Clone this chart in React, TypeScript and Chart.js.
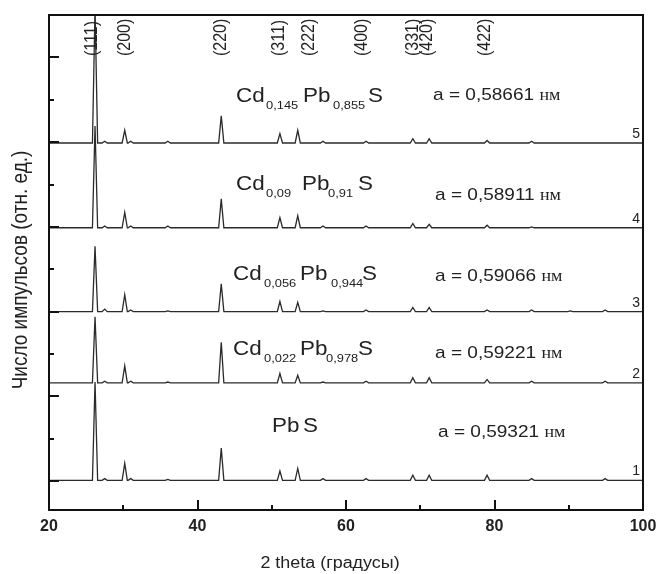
import React, { useEffect, useRef } from "react";
import { Chart, registerables } from "chart.js";
Chart.register(...registerables);

// Peak positions (2θ, degrees) shared by all patterns
const peakPositions = [26.2, 27.5, 30.2, 31.0, 36.0, 43.2, 51.1, 53.5, 56.9, 62.7, 69.0, 71.2, 79.0, 85.0, 90.2, 94.9];
// Peak heights above each pattern's baseline (relative units)
const heights1 = [116, 2, 20, 2, 1, 38, 11, 14, 2, 2, 6, 6, 6, 2, 0, 2];
const heights2 = [78, 2, 20, 2, 1, 48, 11, 9, 1, 2, 6, 6, 4, 2, 0, 2];
const heights3 = [77, 3, 20, 2, 1, 33, 12, 11, 1, 2, 5, 5, 2, 2, 1, 2];
const heights4 = [120, 2, 18, 2, 2, 34, 12, 14, 2, 2, 5, 4, 3, 1, 0, 0];
const heights5 = [160, 2, 15, 2, 2, 32, 11, 15, 2, 2, 5, 5, 3, 2, 0, 0];
// Vertical offsets of the stacked patterns 1..5
const baselines = [1, 116, 200, 299, 399];
const traceNumbers = ["1", "2", "3", "4", "5"];

// Miller indices labels and their 2θ positions
const hklLabels = ["(111)", "(200)", "(220)", "(311)", "(222)", "(400)", "(331)", "(420)", "(422)"];
const hklPositions = [25.86, 30.24, 43.23, 51.04, 55.08, 62.2, 69.02, 70.98, 78.72];

// Axis ticks
const xMajorTicks = [20, 40, 60, 80, 100];
const xMinorTicks = [30, 50, 70, 90];
const yMajorTicks = [0, 100, 200, 300, 400, 500];
const yMinorTicks = [50, 150, 250, 350, 450];

// Lattice constants
const latticeLabels = ["a = 0,59321", "a = 0,59221", "a = 0,59066", "a = 0,58911", "a = 0,58661"];

const SX = 1.12;
const SANS = "'Liberation Sans', Arial, sans-serif";
const SERIF = "'Liberation Serif', 'Times New Roman', serif";

function buildTrace(base: number, heights: number[]) {
  const pts: { x: number; y: number }[] = [{ x: 20, y: base }];
  peakPositions.forEach((p, i) => {
    const h = heights[i];
    if (h > 0) {
      pts.push({ x: p - 0.35, y: base }, { x: p, y: base + h }, { x: p + 0.35, y: base });
    }
  });
  pts.push({ x: 100, y: base });
  return pts;
}

function txt(ctx: CanvasRenderingContext2D, s: string, x: number, y: number, font: string, align: CanvasTextAlign = "left", baseline: CanvasTextBaseline = "alphabetic", sx = SX) {
  ctx.save();
  ctx.translate(x, y);
  ctx.scale(sx, 1);
  ctx.font = font;
  ctx.textAlign = align;
  ctx.textBaseline = baseline;
  ctx.fillText(s, 0, 0);
  ctx.restore();
}

// Compound formula labels: [text, x, isSubscript]
type Seg = [string, number, number];
const formulaLabels: { y: number; segs: Seg[] }[] = [
  { y: 432, segs: [["Pb", 272, 0], ["S", 303, 0]] },
  { y: 355, segs: [["Cd", 233, 0], ["0,022", 264, 1], ["Pb", 300, 0], ["0,978", 326, 1], ["S", 358, 0]] },
  { y: 280, segs: [["Cd", 233, 0], ["0,056", 264, 1], ["Pb", 300, 0], ["0,944", 331, 1], ["S", 362, 0]] },
  { y: 190, segs: [["Cd", 236, 0], ["0,09", 266, 1], ["Pb", 302, 0], ["0,91", 328, 1], ["S", 358, 0]] },
  { y: 102, segs: [["Cd", 236, 0], ["0,145", 266, 1], ["Pb", 303, 0], ["0,855", 333, 1], ["S", 368, 0]] },
];
const latticePos = [
  { x: 438, y: 437 },
  { x: 435, y: 358 },
  { x: 435, y: 281 },
  { x: 435, y: 200 },
  { x: 433, y: 100 },
];

const decor = {
  id: "decor",
  afterDraw(chart: any) {
    const ctx: CanvasRenderingContext2D = chart.ctx;
    const { left, right, top, bottom } = chart.chartArea;
    const xs = chart.scales.x;
    const ys = chart.scales.y;
    ctx.save();
    ctx.strokeStyle = "#111";
    ctx.fillStyle = "#222";
    // frame
    ctx.lineWidth = 2;
    ctx.strokeRect(left, top, right - left, bottom - top);
    // ticks (inward)
    ctx.beginPath();
    xMajorTicks.forEach((v) => { const px = Math.round(xs.getPixelForValue(v)); ctx.moveTo(px, bottom); ctx.lineTo(px, bottom - 10); });
    xMinorTicks.forEach((v) => { const px = Math.round(xs.getPixelForValue(v)); ctx.moveTo(px, bottom); ctx.lineTo(px, bottom - 5); });
    yMajorTicks.forEach((v) => { const py = Math.round(ys.getPixelForValue(v)); ctx.moveTo(left, py); ctx.lineTo(left + 10, py); });
    yMinorTicks.forEach((v) => { const py = Math.round(ys.getPixelForValue(v)); ctx.moveTo(left, py); ctx.lineTo(left + 5, py); });
    ctx.stroke();
    // x tick labels
    xMajorTicks.forEach((v) => {
      txt(ctx, String(v), xs.getPixelForValue(v), 527, "bold 16px " + SANS, "center", "middle", 1);
    });
    // axis titles
    txt(ctx, "2 theta (градусы)", 330, 564, "16px " + SANS, "center", "middle");
    ctx.save();
    ctx.translate(21, 270);
    ctx.scale(SX, 1);
    ctx.rotate(-Math.PI / 2);
    ctx.font = "19px " + SANS;
    ctx.textAlign = "center";
    ctx.textBaseline = "middle";
    ctx.fillText("Число импульсов (отн. ед.)", 0, 0);
    ctx.restore();
    // hkl labels
    hklLabels.forEach((s, i) => {
      ctx.save();
      ctx.translate(xs.getPixelForValue(hklPositions[i]), 56);
      ctx.scale(SX, 1);
      ctx.rotate(-Math.PI / 2);
      ctx.font = "16px " + SANS;
      ctx.textAlign = "left";
      ctx.textBaseline = "middle";
      ctx.fillText(s, 0, 0);
      ctx.restore();
    });
    // trace numbers
    traceNumbers.forEach((s, i) => {
      txt(ctx, s, right - 3, ys.getPixelForValue(baselines[i]) - 5, "14px " + SANS, "right", "alphabetic", 1);
    });
    // formulas
    formulaLabels.forEach((f) => {
      f.segs.forEach(([s, x, sub]) => {
        if (sub) txt(ctx, s, x, f.y + 7, "11.5px " + SANS);
        else txt(ctx, s, x, f.y, "20px " + SANS);
      });
    });
    // lattice constants
    latticeLabels.forEach((s, i) => {
      const p = latticePos[i];
      ctx.save();
      ctx.font = "17px " + SANS;
      const w = ctx.measureText(s + " ").width * SX;
      ctx.restore();
      txt(ctx, s, p.x, p.y, "17px " + SANS);
      txt(ctx, "нм", p.x + w, p.y, "16px " + SERIF);
    });
    ctx.restore();
  },
};

export default function App() {
  const ref = useRef<HTMLCanvasElement | null>(null);
  useEffect(() => {
    document.body.style.margin = "0";
    const heights = [heights1, heights2, heights3, heights4, heights5];
    const chart = new Chart(ref.current as HTMLCanvasElement, {
      type: "line",
      data: {
        datasets: baselines.map((b, i) => ({
          label: traceNumbers[i],
          data: buildTrace(b, heights[i]),
          borderColor: "#2b2b2b",
          borderWidth: 1.3,
          pointRadius: 0,
          tension: 0,
          fill: false,
        })),
      },
      options: {
        animation: false,
        responsive: false,
        devicePixelRatio: 1,
        layout: { padding: { left: 49, top: 15, right: 14, bottom: 64 } },
        plugins: { legend: { display: false }, tooltip: { enabled: false } },
        scales: {
          x: { type: "linear", min: 20, max: 100, display: false },
          y: { type: "linear", min: -34, max: 550, display: false },
        },
      },
      plugins: [decor],
    });
    return () => chart.destroy();
  }, []);
  return (
    <div style={{ width: 657, height: 574, background: "#fff" }}>
      <canvas ref={ref} width={657} height={574} />
    </div>
  );
}
